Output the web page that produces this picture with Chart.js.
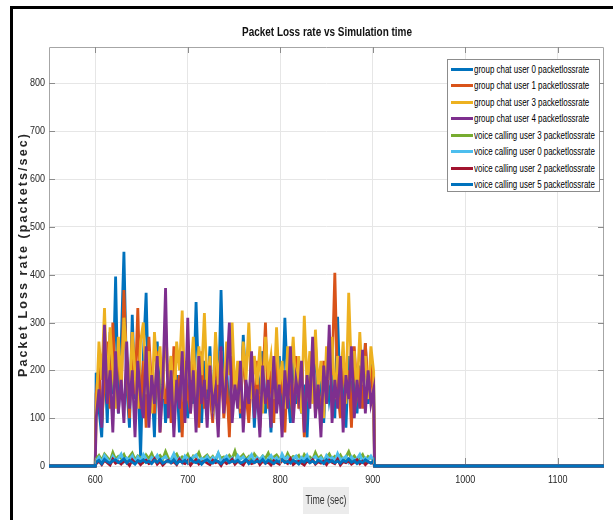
<!DOCTYPE html>
<html>
<head>
<meta charset="utf-8">
<script src="https://cdn.jsdelivr.net/npm/chart.js@4.4.1/dist/chart.umd.min.js"></script>
<style>
  html, body { margin: 0; padding: 0; background: #fff; }
  #wrap { position: relative; width: 613px; height: 520px; overflow: hidden; }
  #c { position: absolute; left: 0; top: 0; }
  #frame { position: absolute; left: 10px; top: 6px; width: 700px; height: 600px;
           border-top: 3px solid #000; border-left: 3px solid #000; pointer-events: none; }
  #legend { position: absolute; left: 447px; top: 59px; width: 153px; height: 133px;
            border: 1px solid #8c8c8c; background: #fff; box-sizing: border-box;
            font-family: "Liberation Sans", Arial, sans-serif;
            font-size: 10px; color: #000; padding-top: 1px; overflow: hidden; }
  .row { height: 16.5px; display: flex; align-items: center; white-space: nowrap; }
  .sw { width: 22px; height: 3px; margin-left: 3px; margin-right: 1px; flex: none; }
  .lt { display: inline-block; transform-origin: 0 50%; }
</style>
</head>
<body>
<div id="wrap">
  <canvas id="c" width="613" height="520"></canvas>
  <div id="frame"></div>
  <div id="legend"></div>
</div>
<script>
// ---- data ----
const chartTitle = "Packet Loss rate vs Simulation time";
const xTitle = "Time (sec)";
const yTitle = "Packet Loss rate (packets/sec)";
const xTicks = [600, 700, 800, 900, 1000, 1100];
const yTicks = [0, 100, 200, 300, 400, 500, 600, 700, 800];
const seriesNames = [
  "group chat user 0 packetlossrate",
  "group chat user 1 packetlossrate",
  "group chat user 3 packetlossrate",
  "group chat user 4 packetlossrate",
  "voice calling user 3 packetlossrate",
  "voice calling user 0 packetlossrate",
  "voice calling user 2 packetlossrate",
  "voice calling user 5 packetlossrate"
];
const seriesColors = ["#0072BD", "#D95319", "#EDB120", "#7E2F8E", "#77AC30", "#4DBEEE", "#A2142F", "#0072BD"];
// active period samples: t = 601, 604, ... , 901
const activeStart = 601;
const activeStep = 3;
const gcUser0 = [195,120,60,240,90,280,150,396,110,250,448,170,80,316,140,200,20,230,362,120,180,60,260,130,210,90,150,230,110,190,70,240,150,100,210,130,343,160,90,220,140,250,100,180,120,368,150,210,90,230,140,190,100,274,160,120,220,80,200,150,240,110,180,70,200,140,230,120,310,160,90,250,130,200,110,170,60,210,150,260,120,190,90,220,140,180,100,312,130,200,80,230,150,190,110,210,140,257,130,220,170];
const gcUser1 = [150,210,90,180,260,120,300,170,240,140,368,200,100,280,150,330,120,220,80,270,160,110,240,70,200,130,180,90,250,140,190,60,220,150,110,230,170,80,240,120,200,150,90,260,130,210,100,180,60,230,140,200,110,250,150,90,190,130,220,80,170,300,120,200,90,240,140,190,70,210,150,100,230,120,180,60,200,140,250,110,170,90,220,130,260,190,404,160,100,230,140,200,80,250,150,190,120,257,160,210,130];
const gcUser3 = [110,260,180,330,150,290,200,120,270,170,310,230,140,280,190,120,260,300,150,240,110,280,190,250,140,300,170,230,120,260,200,325,150,240,180,270,130,250,190,320,160,230,110,280,170,240,140,260,190,300,150,220,120,260,180,300,140,230,170,250,110,270,190,230,140,290,160,220,120,250,180,270,150,230,110,314,170,240,130,285,160,220,100,250,180,270,140,230,170,260,130,362,190,240,150,280,170,230,140,250,197];
const gcUser4 = [100,160,80,295,130,200,70,240,110,180,90,260,120,200,60,220,140,100,250,80,190,130,230,70,170,372,100,200,60,180,120,240,90,310,110,200,70,230,130,180,80,210,120,160,60,250,110,190,300,90,170,120,220,70,180,130,240,100,160,60,210,130,180,80,230,110,170,60,200,120,250,90,180,140,220,70,190,120,270,100,170,60,210,130,295,90,180,120,230,70,190,140,250,100,180,120,243,110,200,130,160];
const vcUser3 = [15,22,12,25,18,10,28,14,20,16,24,11,19,27,13,21,17,9,23,15,26,12,18,22,14,30,16,11,20,25,13,19,15,24,10,21,17,28,12,18,23,14,20,11,26,16,19,13,22,15,31,12,18,24,14,20,10,25,17,13,21,16,27,11,19,23,15,18,12,26,14,20,17,22,10,24,16,19,13,28,15,21,11,18,25,14,20,16,23,12,19,30,15,21,13,17,24,11,20,16,14];
const vcUser0 = [10,18,8,22,14,6,20,12,16,25,9,17,13,21,7,19,11,24,15,8,18,13,22,10,16,20,9,14,26,12,17,7,21,15,11,19,23,8,16,13,20,10,18,14,27,9,15,21,12,17,8,22,14,19,11,16,24,10,18,13,20,7,15,22,12,17,9,25,14,19,11,16,21,8,18,13,23,10,15,20,12,17,9,22,14,18,11,26,13,16,20,8,19,12,15,24,10,17,13,21,11];
const vcUser2 = [5,10,3,12,7,2,14,6,9,4,11,8,1,13,6,10,3,9,12,5,7,15,4,10,2,8,12,6,9,3,14,7,5,11,2,9,13,4,8,10,6,3,12,7,9,1,11,5,8,14,4,10,6,2,12,9,5,7,13,3,10,6,8,2,11,7,4,12,9,5,15,3,8,10,6,2,11,7,13,4,9,6,10,3,12,8,5,14,2,9,7,11,4,8,13,5,10,3,9,6,7];
const vcUser5 = [8,12,5,14,9,6,11,13,7,10,15,6,12,8,4,11,9,13,7,10,5,12,8,14,6,9,11,7,13,5,10,8,12,6,15,9,7,11,4,10,13,8,6,12,9,5,11,14,7,10,8,12,6,9,13,5,11,7,10,8,14,6,12,9,5,11,8,13,7,10,6,12,9,4,11,8,14,7,10,6,12,9,5,13,8,11,7,10,6,12,9,15,8,11,5,10,7,13,9,6,12];
// idle (zero) samples before and after the active period
const idleBefore = [[550, 0], [600, 0]];
const idleAfter = [[902, 0], [1150, 0]];
const seriesValues = [gcUser0, gcUser1, gcUser3, gcUser4, vcUser3, vcUser0, vcUser2, vcUser5];

const X_MIN = 550, X_MAX = 1150, Y_MIN = 0, Y_MAX = 876;
const SANS = '"Liberation Sans", Arial, sans-serif';
const NARROW_SCALE = 0.82;

function buildPoints(vals) {
  const pts = idleBefore.map(p => ({x: p[0], y: p[1]}));
  vals.forEach((v, i) => pts.push({x: activeStart + i * activeStep, y: v}));
  idleAfter.forEach(p => pts.push({x: p[0], y: p[1]}));
  return pts;
}

const datasets = seriesValues.map((vals, i) => ({
  label: seriesNames[i],
  data: buildPoints(vals),
  borderColor: seriesColors[i],
  backgroundColor: seriesColors[i],
  borderWidth: 2.8,
  pointRadius: 0,
  tension: 0,
  fill: false,
  clip: 6,
  order: seriesValues.length - 1 - i
}));

// legend (HTML), text condensed to the reference width
const mctx = document.createElement('canvas').getContext('2d');
mctx.font = '10px ' + SANS;
const longest = Math.max(...seriesNames.map(n => mctx.measureText(n).width));
const legScale = 121 / longest;
const lg = document.getElementById('legend');
seriesNames.forEach((n, i) => {
  const r = document.createElement('div'); r.className = 'row';
  const s = document.createElement('span'); s.className = 'sw'; s.style.background = seriesColors[i];
  const t = document.createElement('span'); t.className = 'lt'; t.textContent = n;
  t.style.transform = 'scaleX(' + legScale + ')';
  r.appendChild(s); r.appendChild(t); lg.appendChild(r);
});

function fitText(ctx, text, x, y, width) {
  const w = ctx.measureText(text).width;
  ctx.save();
  ctx.translate(x, y);
  ctx.scale(width / w, 1);
  ctx.fillText(text, 0, 0);
  ctx.restore();
}
function narrowText(ctx, text, x, y) {
  ctx.save();
  ctx.translate(x, y);
  ctx.scale(NARROW_SCALE, 1);
  ctx.fillText(text, 0, 0);
  ctx.restore();
}

const decor = {
  id: 'decor',
  afterDraw(chart) {
    const ctx = chart.ctx, a = chart.chartArea;
    const xs = chart.scales.x, ys = chart.scales.y;
    ctx.save();
    // box
    ctx.strokeStyle = '#a6a6a6'; ctx.lineWidth = 1;
    ctx.beginPath();
    ctx.moveTo(a.left + 0.5, a.bottom - 2); ctx.lineTo(a.left + 0.5, a.top + 0.5);
    ctx.lineTo(a.right - 0.5, a.top + 0.5); ctx.lineTo(a.right - 0.5, a.bottom - 2);
    ctx.stroke();
    // inner ticks
    ctx.strokeStyle = '#8c8c8c';
    ctx.beginPath();
    xTicks.forEach(v => { const px = Math.round(xs.getPixelForValue(v)) + 0.5;
      ctx.moveTo(px, a.top); ctx.lineTo(px, a.top + 6);
      ctx.moveTo(px, a.bottom - 2); ctx.lineTo(px, a.bottom - 8); });
    yTicks.slice(1).forEach(v => { const py = Math.round(ys.getPixelForValue(v)) + 0.5;
      ctx.moveTo(a.left, py); ctx.lineTo(a.left + 6, py);
      ctx.moveTo(a.right, py); ctx.lineTo(a.right - 6, py); });
    ctx.stroke();
    // tick labels (narrow)
    ctx.fillStyle = '#262626';
    ctx.font = '11px ' + SANS;
    ctx.textBaseline = 'middle';
    ctx.textAlign = 'right';
    yTicks.forEach(v => narrowText(ctx, String(v), a.left - 4, ys.getPixelForValue(v)));
    ctx.textAlign = 'center';
    xTicks.forEach(v => narrowText(ctx, String(v), xs.getPixelForValue(v), a.bottom + 14));
    // title
    ctx.fillStyle = '#111';
    ctx.font = 'bold 13px ' + SANS;
    ctx.textAlign = 'center'; ctx.textBaseline = 'middle';
    fitText(ctx, chartTitle, 327, 32, 170);
    // x title with grey box
    const cx = 326, cy = 500;
    ctx.fillStyle = '#ececec';
    ctx.fillRect(303, 487, 46, 27);
    ctx.fillStyle = '#333';
    ctx.font = '13px ' + SANS;
    fitText(ctx, xTitle, cx, cy, 41);
    // y title
    ctx.translate(24, (a.top + a.bottom) / 2 - 2);
    ctx.rotate(-Math.PI / 2);
    ctx.font = 'bold 12.5px ' + SANS;
    try { ctx.letterSpacing = '2.1px'; } catch (e) {}
    ctx.fillStyle = '#262626';
    ctx.fillText(yTitle, 0, 0);
    ctx.restore();
  }
};

new Chart(document.getElementById('c'), {
  type: 'line',
  data: { datasets },
  options: {
    responsive: false,
    animation: false,
    layout: { padding: { top: 47, right: 9, left: 0, bottom: 0 } },
    plugins: { legend: { display: false }, tooltip: { enabled: false }, title: { display: false } },
    scales: {
      x: {
        type: 'linear', min: X_MIN, max: X_MAX,
        afterBuildTicks: s => { s.ticks = xTicks.map(v => ({ value: v })); },
        afterFit: s => { s.height = 54; },
        grid: { color: '#e6e6e6', drawTicks: false },
        border: { display: false },
        ticks: { display: false }
      },
      y: {
        type: 'linear', min: Y_MIN, max: Y_MAX,
        afterBuildTicks: s => { s.ticks = yTicks.map(v => ({ value: v })); },
        afterFit: s => { s.width = 49; },
        grid: { color: '#e6e6e6', drawTicks: false },
        border: { display: false },
        ticks: { display: false }
      }
    }
  },
  plugins: [decor]
});
</script>
</body>
</html>
